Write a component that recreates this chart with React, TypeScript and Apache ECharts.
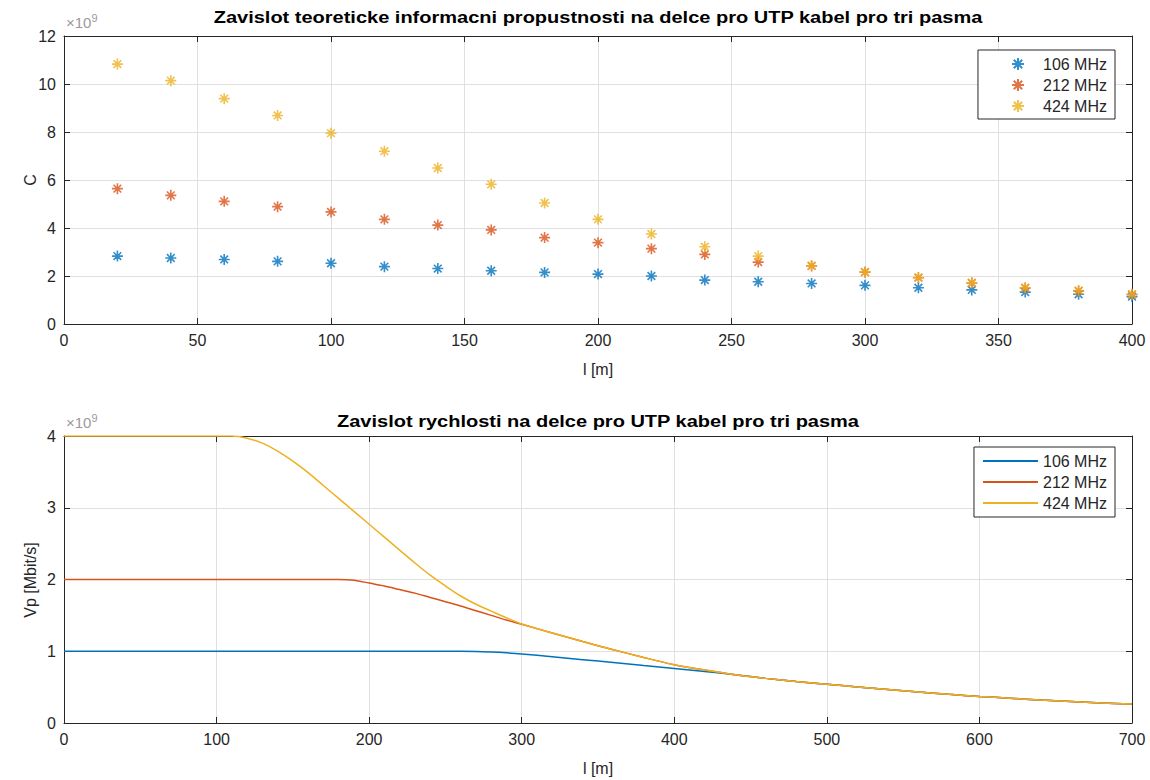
import React, { useEffect, useRef } from "react";
import * as echarts from "echarts";

// Top chart: theoretical capacity C vs length (x10^9)
const lengthTop = [20, 40, 60, 80, 100, 120, 140, 160, 180, 200, 220, 240, 260, 280, 300, 320, 340, 360, 380, 400];
const cap106 = [2.83, 2.75, 2.69, 2.61, 2.53, 2.39, 2.31, 2.22, 2.15, 2.08, 2.0, 1.83, 1.76, 1.69, 1.61, 1.51, 1.42, 1.33, 1.24, 1.14];
const cap212 = [5.64, 5.36, 5.11, 4.89, 4.67, 4.36, 4.12, 3.92, 3.6, 3.39, 3.14, 2.9, 2.58, 2.42, 2.16, 1.93, 1.71, 1.5, 1.38, 1.23];
const cap424 = [10.83, 10.14, 9.39, 8.69, 7.95, 7.2, 6.5, 5.82, 5.04, 4.36, 3.75, 3.22, 2.83, 2.43, 2.17, 1.94, 1.72, 1.51, 1.39, 1.24];

// Bottom chart: speed Vp vs length (x10^9)
const lengthBottom = [0, 20, 40, 60, 80, 100, 110, 120, 130, 140, 150, 160, 170, 180, 190, 200, 210, 220, 230, 240, 250, 260, 270, 280, 290, 300, 320, 340, 360, 380, 400, 420, 440, 460, 480, 500, 520, 540, 560, 580, 600, 620, 640, 660, 680, 700];
const vp106 = [1, 1, 1, 1, 1, 1, 1, 1, 1, 1, 1, 1, 1, 1, 1, 1, 1, 1, 1, 1, 1, 1, 0.998, 0.99, 0.978, 0.962, 0.923, 0.883, 0.842, 0.8, 0.76, 0.718, 0.672, 0.622, 0.578, 0.54, 0.503, 0.468, 0.432, 0.4, 0.37, 0.345, 0.32, 0.3, 0.28, 0.265];
const vp212 = [2, 2, 2, 2, 2, 2, 2, 2, 2, 2, 2, 2, 2, 2, 1.99, 1.95, 1.91, 1.86, 1.81, 1.75, 1.69, 1.63, 1.565, 1.5, 1.435, 1.375, 1.255, 1.135, 1.022, 0.913, 0.812, 0.738, 0.672, 0.622, 0.578, 0.54, 0.503, 0.468, 0.432, 0.4, 0.37, 0.345, 0.32, 0.3, 0.28, 0.265];
const vp424 = [4, 4, 4, 4, 4, 4, 4, 3.97, 3.9, 3.79, 3.65, 3.49, 3.31, 3.13, 2.95, 2.77, 2.59, 2.41, 2.23, 2.06, 1.91, 1.77, 1.655, 1.56, 1.465, 1.38, 1.255, 1.135, 1.022, 0.913, 0.812, 0.738, 0.672, 0.622, 0.578, 0.54, 0.503, 0.468, 0.432, 0.4, 0.37, 0.345, 0.32, 0.3, 0.28, 0.265];

const seriesNames = ["106 MHz", "212 MHz", "424 MHz"];
const colors = ["#0072BD", "#D95319", "#EDB120"];

const ASTERISK = "path://M10,0L10,20M0,10L20,10M3,3L17,17M3,17L17,3";
const FONT = "'Liberation Sans', Arial, Helvetica, sans-serif";
const AX = "#262626";
const GRID = "#e0e0e0";

function pairs(xs: number[], ys: number[]) {
  return xs.map((x, i) => [x, ys[i]]);
}

export default function App() {
  const ref = useRef<HTMLDivElement>(null);
  useEffect(() => {
    document.body.style.margin = "0";
    const chart = echarts.init(ref.current!, null, { renderer: "svg" });
    const g1 = { left: 64, right: 18, top: 36, height: 288 };
    const g2 = { left: 64, right: 18, top: 436, height: 287 };
    const labelStyle = { color: AX, fontSize: 16, fontFamily: FONT };
    const mkAxis = (gi: number, max: number, interval: number, pos: string, labels: boolean) => ({
      type: "value",
      gridIndex: gi,
      min: 0,
      max,
      interval,
      position: pos,
      axisLine: { show: true, onZero: false, lineStyle: { color: AX, width: 1 } },
      axisTick: { show: true, inside: true, length: 6, lineStyle: { color: AX } },
      axisLabel: { show: labels, ...labelStyle, margin: 8 },
      splitLine: { show: labels, lineStyle: { color: GRID, width: 1 } },
    });
    const capData = [cap106, cap212, cap424];
    const vpData = [vp106, vp212, vp424];
    const scatterSeries = capData.map((d, i) => ({
      type: "scatter",
      name: seriesNames[i],
      xAxisIndex: 0,
      yAxisIndex: 0,
      data: pairs(lengthTop, d),
      symbol: ASTERISK,
      symbolSize: 11,
      itemStyle: { color: colors[i], borderColor: colors[i], borderWidth: 1.6 },
      z: 3 + i,
    }));
    const lineSeries = vpData.map((d, i) => ({
      type: "line",
      name: seriesNames[i] + " ",
      xAxisIndex: 2,
      yAxisIndex: 2,
      data: pairs(lengthBottom, d),
      symbol: "none",
      smooth: 0.3,
      lineStyle: { color: colors[i], width: 1.5 },
      itemStyle: { color: colors[i] },
      z: 3 + i,
    }));
    const legendBase = {
      orient: "vertical",
      backgroundColor: "#ffffff",
      borderColor: AX,
      borderWidth: 1,
      borderRadius: 0,
      itemGap: 5,
      textStyle: { color: AX, fontSize: 16, fontFamily: FONT },
    };
    const xLabel = (y: number) => ({
      type: "text",
      x: 598,
      y,
      style: { text: "l [m]", fill: AX, font: `16px ${FONT}`, textAlign: "center", textVerticalAlign: "middle" },
    });
    const expo = (y: number) => ({
      type: "text",
      x: 66,
      y,
      style: {
        text: "{a|×10}{b|9}",
        textVerticalAlign: "middle",
        rich: {
          a: { fill: "#9a9a9a", font: `15px ${FONT}` },
          b: { fill: "#9a9a9a", font: `11px ${FONT}`, verticalAlign: "top", padding: [0, 0, 8, 0] },
        },
      },
    });
    const title = (text: string, y: number) => ({
      type: "text",
      x: 598,
      y,
      scaleX: 1.25,
      originX: 0,
      originY: 0,
      style: { text, fill: "#000", font: `bold 16px ${FONT}`, textAlign: "center", textVerticalAlign: "middle" },
    });
    chart.setOption({
      animation: false,
      backgroundColor: "#ffffff",
      grid: [g1, g2],
      xAxis: [
        mkAxis(0, 400, 50, "bottom", true),
        mkAxis(0, 400, 50, "top", false),
        mkAxis(1, 700, 100, "bottom", true),
        mkAxis(1, 700, 100, "top", false),
      ],
      yAxis: [
        mkAxis(0, 12, 2, "left", true),
        mkAxis(0, 12, 2, "right", false),
        mkAxis(1, 4, 1, "left", true),
        mkAxis(1, 4, 1, "right", false),
      ],
      legend: [
        {
          ...legendBase,
          data: seriesNames,
          right: 35,
          top: 50,
          padding: [6, 8, 5, 33],
          itemWidth: 40,
          itemHeight: 12,
        },
        {
          ...legendBase,
          data: seriesNames.map((n) => n + " "),
          right: 35,
          top: 447,
          padding: [6, 8, 6, 8],
          itemWidth: 55,
          itemHeight: 2,
          formatter: (n: string) => n.trim(),
        },
      ],
      series: [...scatterSeries, ...lineSeries],
      graphic: [
        title("Zavislot teoreticke informacni propustnosti na delce pro UTP kabel pro tri pasma", 18),
        title("Zavislot rychlosti na delce pro UTP kabel pro tri pasma", 422),
        xLabel(369),
        xLabel(768),
        {
          type: "text",
          x: 30,
          y: 180,
          rotation: Math.PI / 2,
          style: { text: "C", fill: AX, font: `16px ${FONT}`, textAlign: "center", textVerticalAlign: "middle" },
        },
        {
          type: "text",
          x: 30,
          y: 580,
          rotation: Math.PI / 2,
          style: { text: "Vp [Mbit/s]", fill: AX, font: `16px ${FONT}`, textAlign: "center", textVerticalAlign: "middle" },
        },
        expo(22),
        expo(422),
      ],
    });
    return () => chart.dispose();
  }, []);
  return <div ref={ref} style={{ width: 1150, height: 780 }} />;
}
